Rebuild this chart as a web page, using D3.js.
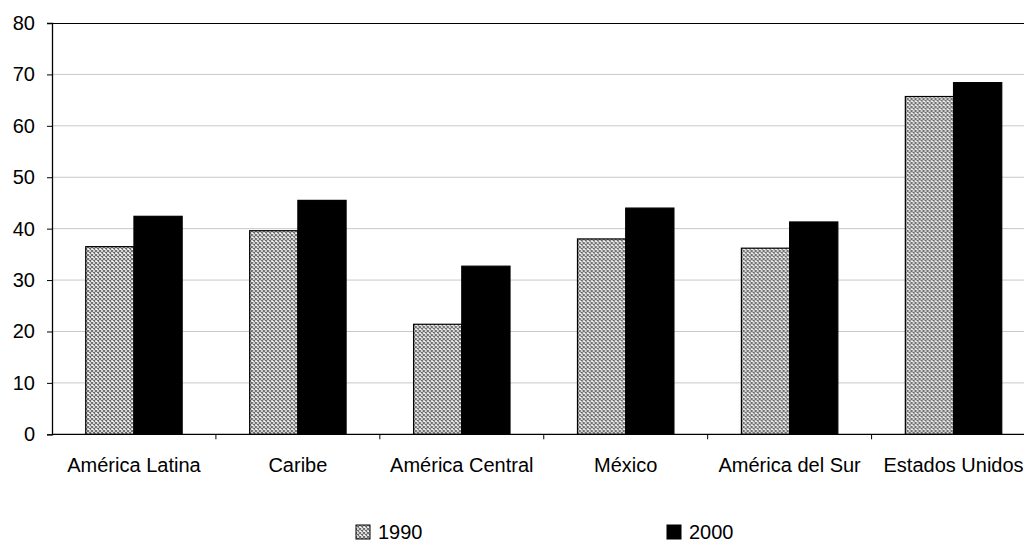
<!DOCTYPE html>
<html>
<head>
<meta charset="utf-8">
<script src="https://cdn.jsdelivr.net/npm/d3@7"></script>
<style>
  html, body { margin: 0; padding: 0; background: #fff; overflow: hidden; }
  svg { display: block; font-family: "Liberation Sans", Arial, sans-serif; }
</style>
</head>
<body>
<svg id="chart" width="1024" height="543"></svg>
<script>
// Regions and the two census years
const categories = ["América Latina", "Caribe", "América Central", "México", "América del Sur", "Estados Unidos"];
const series = ["1990", "2000"];
const values1990 = [36.5, 39.6, 21.4, 38.0, 36.2, 65.7];
const values2000 = [42.4, 45.5, 32.7, 44.0, 41.3, 68.4];
const yTicks = [0, 10, 20, 30, 40, 50, 60, 70, 80];

const svg = d3.select("#chart");
const margin = { left: 52, top: 23 };
const plotW = 983.5, plotH = 411.3;

// Small grey cross-hatch used for the 1990 bars
const defs = svg.append("defs");
const pat = defs.append("pattern")
  .attr("id", "hatch")
  .attr("patternUnits", "userSpaceOnUse")
  .attr("width", 4).attr("height", 4);
pat.append("rect").attr("width", 4).attr("height", 4).attr("fill", "#ffffff");
pat.append("path").attr("d", "M0,0 L4,4 M4,0 L0,4")
  .attr("stroke", "#6a6a6a").attr("stroke-width", 1.1);

const g = svg.append("g").attr("transform", `translate(${margin.left},${margin.top})`);

const x = d3.scaleBand().domain(categories).range([0, plotW]).padding(0);
const y = d3.scaleLinear().domain([0, 80]).range([plotH, 0]);
const x1 = d3.scaleBand().domain(series).range([0, x.bandwidth()]).paddingOuter(0.7).paddingInner(0);

// Horizontal gridlines
g.append("g").selectAll("line")
  .data(yTicks.filter(t => t > 0 && t < 80))
  .join("line")
  .attr("x1", 0).attr("x2", plotW)
  .attr("y1", d => y(d)).attr("y2", d => y(d))
  .attr("stroke", "#c8c8c8").attr("stroke-width", 1);

// Frame top
g.append("line").attr("x1", 0).attr("x2", plotW).attr("y1", 0.5).attr("y2", 0.5)
  .attr("stroke", "#000").attr("stroke-width", 1.2);

// Bars
const rows = categories.map((c, i) => ({ cat: c, vals: [values1990[i], values2000[i]] }));
const groups = g.append("g").selectAll("g")
  .data(rows).join("g")
  .attr("transform", d => `translate(${x(d.cat)},0)`);

groups.selectAll("rect")
  .data(d => d.vals.map((v, k) => ({ key: series[k], v })))
  .join("rect")
  .attr("x", d => x1(d.key))
  .attr("width", x1.bandwidth())
  .attr("y", d => y(d.v))
  .attr("height", d => plotH - y(d.v))
  .attr("fill", d => d.key === "1990" ? "url(#hatch)" : "#000")
  .attr("stroke", "#000").attr("stroke-width", 1.2);

// Y axis
const yAxis = d3.axisLeft(y).tickValues(yTicks).tickSize(5).tickPadding(12);
const ya = g.append("g").call(yAxis);
ya.select(".domain").attr("stroke", "#000").attr("stroke-width", 1.3);
ya.selectAll(".tick line").attr("stroke", "#000");
ya.selectAll("text").attr("font-size", 20).attr("fill", "#000")
  .attr("font-family", "Liberation Sans, Arial, sans-serif");

// X axis with ticks between categories
const xa = g.append("g").attr("transform", `translate(0,${plotH})`);
xa.append("line").attr("x1", 0).attr("x2", plotW).attr("stroke", "#000").attr("stroke-width", 1.3);
xa.selectAll(".sep").data(categories.slice(1)).join("line")
  .attr("class", "sep")
  .attr("x1", d => x(d)).attr("x2", d => x(d))
  .attr("y1", 0).attr("y2", 5).attr("stroke", "#000");
xa.selectAll(".lbl").data(categories).join("text")
  .attr("class", "lbl")
  .attr("x", d => x(d) + x.bandwidth() / 2)
  .attr("y", 38)
  .attr("text-anchor", "middle")
  .attr("font-size", 20)
  .attr("fill", "#000")
  .text(d => d);

// Legend
const legendX = [356, 667];
const leg = svg.append("g").selectAll("g").data(series).join("g")
  .attr("transform", (d, i) => `translate(${legendX[i]},525)`);
leg.append("rect").attr("width", 14).attr("height", 14)
  .attr("fill", d => d === "1990" ? "url(#hatch)" : "#000")
  .attr("stroke", "#000").attr("stroke-width", 1);
leg.append("text").attr("x", 22).attr("y", 14)
  .attr("font-size", 20).attr("fill", "#000")
  .text(d => d);
</script>
</body>
</html>
